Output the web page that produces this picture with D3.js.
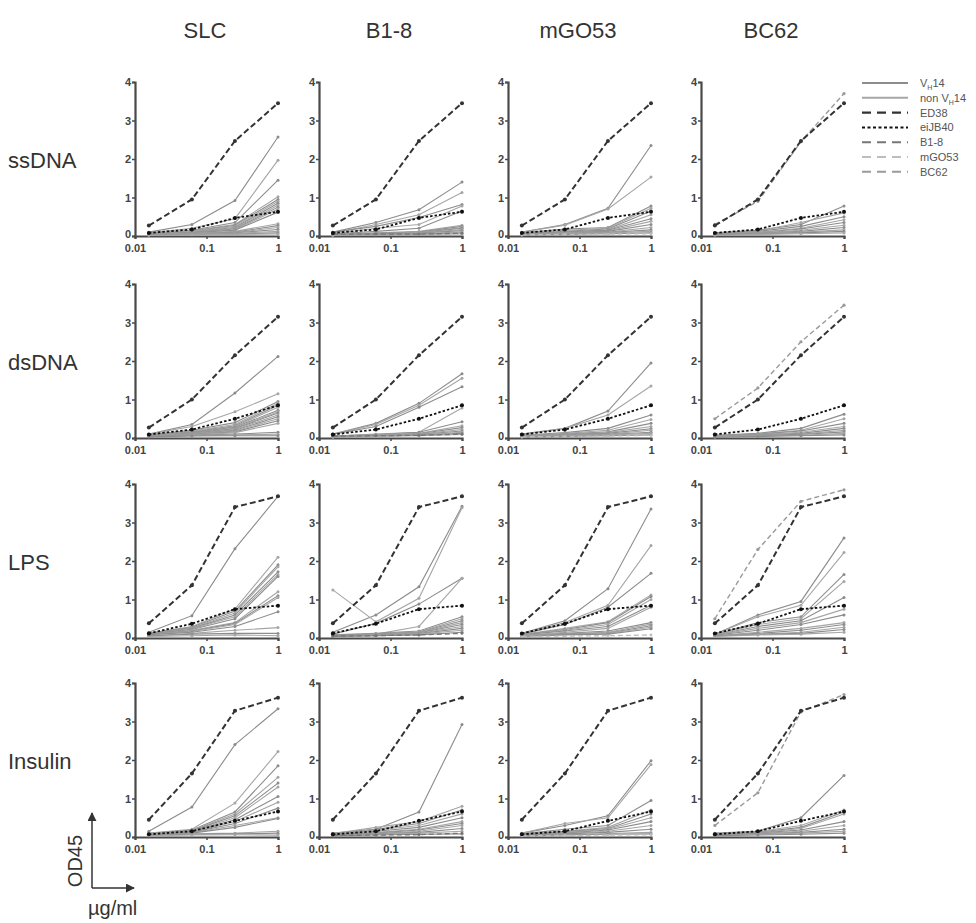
<!DOCTYPE html>
<html>
<head>
<meta charset="utf-8">
<script src="https://cdn.jsdelivr.net/npm/d3@7"></script>
<style>
  body { margin: 0; background: #fff; }
  svg { display: block; font-family: "Liberation Sans", Arial, sans-serif; }
</style>
</head>
<body>
<div id="chart"></div>
<script>
//Datos
const doses = [0.015625, 0.0625, 0.25, 1];
const columns = ['SLC', 'B1-8', 'mGO53', 'BC62'];
const rows = ['ssDNA', 'dsDNA', 'LPS', 'Insulin'];
const xTicks = [0.01, 0.1, 1];
const yTicks = [0, 1, 2, 3, 4];

//Controles por fila
const ed38 = [
    [0.27, 0.95, 2.47, 3.45],
    [0.27, 1.00, 2.15, 3.15],
    [0.38, 1.37, 3.40, 3.68],
    [0.45, 1.65, 3.28, 3.62]
];
const eiJB40 = [
    [0.08, 0.17, 0.47, 0.63],
    [0.09, 0.22, 0.50, 0.85],
    [0.12, 0.37, 0.75, 0.84],
    [0.07, 0.15, 0.42, 0.66]
];
//Control de cada columna (B1-8, mGO53, BC62)
const ctrlB18 = [
    [0.05, 0.05, 0.05, 0.07],
    [0.05, 0.06, 0.07, 0.10],
    [0.05, 0.06, 0.08, 0.12],
    [0.04, 0.05, 0.06, 0.10]
];
const ctrlMGO53 = [
    [0.03, 0.04, 0.05, 0.06],
    [0.03, 0.04, 0.05, 0.07],
    [0.04, 0.05, 0.06, 0.08],
    [0.03, 0.04, 0.05, 0.06]
];
const ctrlBC62 = [
    [0.30, 0.90, 2.45, 3.70],
    [0.50, 1.30, 2.50, 3.45],
    [0.50, 2.30, 3.55, 3.85],
    [0.30, 1.15, 3.25, 3.70]
];

//Anticuerpos (líneas grises), una lista por panel
const ssDNA_SLC = [
    [0.10,0.30,0.92,2.57],[0.08,0.20,0.45,1.97],[0.07,0.15,0.35,1.45],[0.06,0.14,0.30,1.02],
    [0.06,0.12,0.28,0.95],[0.05,0.12,0.25,0.90],[0.05,0.10,0.22,0.85],[0.05,0.10,0.20,0.80],
    [0.05,0.09,0.18,0.75],[0.04,0.08,0.16,0.70],[0.04,0.08,0.15,0.62],[0.04,0.07,0.12,0.32],
    [0.04,0.06,0.10,0.27],[0.03,0.06,0.09,0.22],[0.03,0.05,0.08,0.17],[0.03,0.05,0.07,0.12],
    [0.03,0.04,0.05,0.08],[0.02,0.03,0.04,0.05]
];
const ssDNA_B18 = [
    [0.10,0.35,0.68,1.40],[0.08,0.30,0.55,1.13],[0.10,0.25,0.48,0.82],[0.06,0.20,0.30,0.78],
    [0.05,0.12,0.20,0.65],[0.04,0.08,0.12,0.28],[0.04,0.07,0.10,0.25],[0.03,0.06,0.09,0.22],
    [0.03,0.06,0.08,0.20],[0.03,0.05,0.08,0.17],[0.03,0.05,0.07,0.14],[0.02,0.04,0.06,0.11],
    [0.02,0.04,0.05,0.08],[0.02,0.03,0.04,0.05]
];
const ssDNA_mGO53 = [
    [0.10,0.30,0.72,2.35],[0.10,0.28,0.70,1.53],[0.08,0.18,0.22,0.78],[0.07,0.15,0.20,0.72],
    [0.06,0.12,0.18,0.65],[0.05,0.10,0.16,0.55],[0.05,0.10,0.15,0.45],[0.04,0.08,0.13,0.38],
    [0.04,0.07,0.12,0.30],[0.04,0.07,0.10,0.22],[0.03,0.06,0.09,0.16],[0.03,0.05,0.08,0.12],
    [0.02,0.04,0.06,0.08]
];
const ssDNA_BC62 = [
    [0.08,0.15,0.30,0.78],[0.07,0.13,0.35,0.60],[0.06,0.12,0.25,0.50],[0.05,0.10,0.20,0.42],
    [0.05,0.09,0.18,0.35],[0.04,0.08,0.15,0.28],[0.04,0.07,0.12,0.22],[0.03,0.06,0.10,0.16],
    [0.03,0.05,0.08,0.12],[0.02,0.04,0.06,0.08]
];
const dsDNA_SLC = [
    [0.10,0.35,1.17,2.12],[0.10,0.30,0.68,1.15],[0.08,0.20,0.40,0.95],[0.08,0.18,0.35,0.90],
    [0.07,0.16,0.32,0.85],[0.07,0.15,0.30,0.80],[0.06,0.14,0.28,0.72],[0.06,0.13,0.26,0.68],
    [0.06,0.12,0.24,0.65],[0.05,0.11,0.22,0.60],[0.05,0.10,0.20,0.55],[0.05,0.10,0.18,0.50],
    [0.04,0.09,0.16,0.45],[0.04,0.08,0.14,0.38],[0.04,0.07,0.10,0.15],[0.03,0.06,0.08,0.10],
    [0.03,0.05,0.06,0.06]
];
const dsDNA_B18 = [
    [0.10,0.38,0.90,1.67],[0.10,0.35,0.85,1.55],[0.10,0.30,0.80,1.33],[0.05,0.10,0.15,0.78],
    [0.05,0.09,0.15,0.42],[0.04,0.08,0.12,0.32],[0.04,0.07,0.11,0.27],[0.04,0.07,0.10,0.22],
    [0.03,0.06,0.09,0.18],[0.03,0.06,0.08,0.15],[0.03,0.05,0.07,0.12],[0.02,0.04,0.06,0.09]
];
const dsDNA_mGO53 = [
    [0.10,0.25,0.70,1.95],[0.10,0.25,0.60,1.35],[0.07,0.14,0.25,0.60],[0.06,0.12,0.20,0.48],
    [0.05,0.10,0.16,0.38],[0.05,0.09,0.14,0.30],[0.04,0.08,0.12,0.24],[0.04,0.07,0.10,0.20],
    [0.03,0.06,0.09,0.15],[0.03,0.05,0.08,0.12],[0.02,0.04,0.06,0.08]
];
const dsDNA_BC62 = [
    [0.07,0.12,0.25,0.62],[0.06,0.11,0.20,0.50],[0.05,0.10,0.18,0.38],[0.05,0.09,0.15,0.30],
    [0.04,0.08,0.12,0.25],[0.04,0.07,0.10,0.20],[0.03,0.06,0.09,0.16],[0.03,0.05,0.07,0.12],
    [0.02,0.04,0.06,0.08]
];
const LPS_SLC = [
    [0.15,0.58,2.32,3.68],[0.12,0.30,0.75,2.10],[0.12,0.28,0.70,1.90],[0.11,0.26,0.65,1.85],
    [0.10,0.25,0.60,1.72],[0.10,0.24,0.55,1.65],[0.10,0.22,0.50,1.60],[0.09,0.20,0.40,1.20],
    [0.09,0.18,0.38,1.10],[0.08,0.17,0.35,1.05],[0.08,0.15,0.30,0.68],[0.06,0.12,0.20,0.27],
    [0.05,0.10,0.12,0.12],[0.04,0.06,0.08,0.06]
];
const LPS_B18 = [
    [0.15,0.60,1.33,3.42],[1.25,0.42,1.03,3.38],[0.10,0.38,0.88,1.55],[0.05,0.10,0.30,1.55],
    [0.08,0.12,0.18,0.55],[0.07,0.11,0.16,0.50],[0.07,0.10,0.15,0.45],[0.06,0.09,0.14,0.40],
    [0.06,0.09,0.13,0.35],[0.05,0.08,0.12,0.30],[0.05,0.07,0.11,0.25],[0.04,0.06,0.10,0.20],
    [0.04,0.06,0.08,0.15]
];
const LPS_mGO53 = [
    [0.12,0.45,1.28,3.35],[0.10,0.40,0.85,2.40],[0.10,0.35,0.80,1.68],[0.09,0.25,0.42,1.12],
    [0.09,0.22,0.40,1.08],[0.08,0.20,0.35,1.00],[0.08,0.18,0.30,0.85],[0.07,0.15,0.25,0.80],
    [0.06,0.12,0.18,0.40],[0.06,0.11,0.15,0.36],[0.05,0.10,0.13,0.32],[0.05,0.09,0.12,0.28],
    [0.04,0.08,0.10,0.24]
];
const LPS_BC62 = [
    [0.10,0.60,0.95,2.60],[0.10,0.55,0.85,2.22],[0.09,0.40,0.55,1.65],[0.09,0.35,0.50,1.47],
    [0.08,0.30,0.45,1.05],[0.08,0.25,0.40,0.75],[0.07,0.20,0.35,0.60],[0.06,0.15,0.25,0.40],
    [0.06,0.12,0.20,0.35],[0.05,0.10,0.15,0.28],[0.05,0.09,0.12,0.22],[0.04,0.08,0.10,0.15]
];
const Insulin_SLC = [
    [0.15,0.78,2.40,3.33],[0.10,0.20,0.88,2.22],[0.09,0.18,0.65,1.85],[0.09,0.17,0.60,1.55],
    [0.08,0.16,0.55,1.40],[0.08,0.15,0.50,1.30],[0.07,0.14,0.45,1.05],[0.07,0.13,0.40,0.90],
    [0.06,0.12,0.35,0.75],[0.06,0.11,0.30,0.50],[0.05,0.10,0.25,0.48],[0.05,0.08,0.10,0.15],
    [0.04,0.07,0.08,0.10],[0.03,0.05,0.06,0.05]
];
const Insulin_B18 = [
    [0.10,0.20,0.65,2.92],[0.09,0.25,0.40,0.80],[0.08,0.20,0.35,0.70],[0.08,0.18,0.30,0.60],
    [0.07,0.15,0.25,0.50],[0.06,0.12,0.20,0.40],[0.06,0.10,0.18,0.35],[0.05,0.09,0.15,0.30],
    [0.05,0.08,0.12,0.22],[0.04,0.07,0.10,0.15],[0.03,0.05,0.07,0.08]
];
const Insulin_mGO53 = [
    [0.10,0.30,0.55,1.98],[0.10,0.35,0.50,1.88],[0.08,0.20,0.30,0.95],[0.07,0.15,0.25,0.70],
    [0.07,0.14,0.22,0.60],[0.06,0.12,0.20,0.50],[0.06,0.10,0.18,0.40],[0.05,0.09,0.15,0.30],
    [0.04,0.08,0.12,0.20],[0.04,0.06,0.09,0.12],[0.03,0.05,0.07,0.08]
];
const Insulin_BC62 = [
    [0.10,0.15,0.50,1.60],[0.08,0.14,0.30,0.70],[0.07,0.12,0.25,0.65],[0.07,0.11,0.22,0.60],
    [0.06,0.10,0.18,0.40],[0.05,0.09,0.15,0.30],[0.05,0.08,0.12,0.20],[0.04,0.07,0.10,0.15],
    [0.03,0.05,0.07,0.10]
];

const panels = [
    [ssDNA_SLC, ssDNA_B18, ssDNA_mGO53, ssDNA_BC62],
    [dsDNA_SLC, dsDNA_B18, dsDNA_mGO53, dsDNA_BC62],
    [LPS_SLC, LPS_B18, LPS_mGO53, LPS_BC62],
    [Insulin_SLC, Insulin_B18, Insulin_mGO53, Insulin_BC62]
];

//Estilos
const COLOR_VH14 = '#8c8c8c',
    COLOR_NONVH14 = '#a6a6a6',
    COLOR_ED38 = '#333333',
    COLOR_EIJB40 = '#111111',
    COLOR_B18 = '#777777',
    COLOR_MGO53 = '#bdbdbd',
    COLOR_BC62 = '#9a9a9a',
    COLOR_AXIS = '#4a4a4a',
    COLOR_TEXT = '#333333';

const legendItems = [
    { label: 'VH14', sub: true, color: COLOR_VH14, dash: null, w: 2 },
    { label: 'non VH14', sub: true, color: COLOR_NONVH14, dash: null, w: 2 },
    { label: 'ED38', color: COLOR_ED38, dash: '9,6', w: 2.4 },
    { label: 'eiJB40', color: COLOR_EIJB40, dash: '3,2.5', w: 2 },
    { label: 'B1-8', color: COLOR_B18, dash: '9,6', w: 2 },
    { label: 'mGO53', color: COLOR_MGO53, dash: '9,6', w: 2 },
    { label: 'BC62', color: COLOR_BC62, dash: '9,6', w: 2 }
];

//Layout
const width = 976, height = 923;
const colX = [135, 319, 508, 701], panelW = 143;
const rowY = [236, 438, 638, 837], panelH = 154;

let svg = d3.select('#chart').append('svg')
    .attr('width', width)
    .attr('height', height);

//Títulos de columnas y filas
columns.forEach(function(c, i) {
    svg.append('text')
        .attr('x', colX[i] + 70)
        .attr('y', 38)
        .attr('text-anchor', 'middle')
        .attr('font-size', 22)
        .attr('fill', COLOR_TEXT)
        .text(c);
});
rows.forEach(function(r, i) {
    svg.append('text')
        .attr('x', 8)
        .attr('y', rowY[i] - 68)
        .attr('font-size', 22)
        .attr('fill', COLOR_TEXT)
        .text(r);
});

let line = d3.line();

function drawSeries(g, x, y, values, color, dash, w, r) {
    let pts = values.map(function(v, i) { return [x(doses[i]), y(v)]; });
    g.append('path')
        .attr('d', line(pts))
        .attr('fill', 'none')
        .attr('stroke', color)
        .attr('stroke-width', w)
        .attr('stroke-dasharray', dash);
    g.selectAll(null)
        .data(pts)
        .enter()
        .append('circle')
        .attr('cx', function(d) { return d[0]; })
        .attr('cy', function(d) { return d[1]; })
        .attr('r', r)
        .attr('fill', color);
}

rows.forEach(function(rowName, ri) {
    columns.forEach(function(colName, ci) {
        let x = d3.scaleLog().domain([0.01, 1]).range([colX[ci], colX[ci] + panelW]);
        let y = d3.scaleLinear().domain([0, 4]).range([rowY[ri], rowY[ri] - panelH]);
        let g = svg.append('g');

        //Ejes
        let yAxis = d3.axisLeft(y).tickValues(yTicks).tickSize(3).tickFormat(d3.format('d'));
        let gy = g.append('g').attr('transform', 'translate(' + colX[ci] + ',0)').call(yAxis);
        let xAxis = d3.axisBottom(x).tickValues(xTicks).tickSize(3).tickFormat(function(d) { return String(d); });
        let gx = g.append('g').attr('transform', 'translate(0,' + rowY[ri] + ')').call(xAxis);
        [gx, gy].forEach(function(a) {
            a.select('.domain').attr('stroke', COLOR_AXIS).attr('stroke-width', 2.2);
            a.selectAll('.tick line').attr('stroke', COLOR_AXIS).attr('stroke-width', 1.5);
            a.selectAll('.tick text')
                .attr('fill', '#444')
                .attr('font-size', 11)
                .attr('font-weight', 'bold')
                .attr('font-family', '"Liberation Sans", Arial, sans-serif');
        });
        gy.selectAll('.tick text').attr('x', -4);
        //el "0" del eje Y algo más arriba para no pisar el "0.01"
        gy.selectAll('.tick text').filter(function(d) { return d === 0; }).attr('dy', '0.1em');
        gx.selectAll('.tick text').attr('y', 8);

        //Anticuerpos
        panels[ri][ci].forEach(function(vals, k) {
            drawSeries(g, x, y, vals, k % 2 ? COLOR_NONVH14 : COLOR_VH14, null, 1.1, 1.5);
        });

        //Control específico de la columna
        if (ci === 1) drawSeries(g, x, y, ctrlB18[ri], COLOR_B18, '5,3', 1.3, 1.4);
        if (ci === 2) drawSeries(g, x, y, ctrlMGO53[ri], COLOR_MGO53, '5,3', 1.3, 1.4);
        if (ci === 3) drawSeries(g, x, y, ctrlBC62[ri], COLOR_BC62, '5,3', 1.4, 1.6);

        drawSeries(g, x, y, eiJB40[ri], COLOR_EIJB40, '2.5,2', 1.8, 2);
        drawSeries(g, x, y, ed38[ri], COLOR_ED38, '6,3', 2, 2);
    });
});

//Leyenda
let legend = svg.append('g').attr('transform', 'translate(862,83)');
legendItems.forEach(function(d, i) {
    let gi = legend.append('g').attr('transform', 'translate(0,' + (i * 14.8) + ')');
    gi.append('line')
        .attr('x1', 0).attr('x2', 46)
        .attr('stroke', d.color)
        .attr('stroke-width', d.w)
        .attr('stroke-dasharray', d.dash);
    let t = gi.append('text')
        .attr('x', 58)
        .attr('y', 4)
        .attr('font-size', 11)
        .attr('fill', '#555');
    if (d.sub) {
        let parts = d.label.split('VH14');
        t.append('tspan').text(parts[0] + 'V');
        t.append('tspan').attr('font-size', 7).attr('dy', 3).text('H');
        t.append('tspan').attr('dy', -3).text('14');
    } else {
        t.text(d.label);
    }
});

//Indicador de ejes (OD45 / µg/ml)
let defs = svg.append('defs');
defs.append('marker')
    .attr('id', 'arrow')
    .attr('viewBox', '0 0 10 10')
    .attr('refX', 9).attr('refY', 5)
    .attr('markerWidth', 9).attr('markerHeight', 9)
    .attr('markerUnits', 'userSpaceOnUse')
    .attr('orient', 'auto')
    .append('path')
    .attr('d', 'M0,0 L10,5 L0,10 Z')
    .attr('fill', '#333');

svg.append('line')
    .attr('x1', 92).attr('y1', 888).attr('x2', 92).attr('y2', 813)
    .attr('stroke', '#333').attr('stroke-width', 1.5)
    .attr('marker-end', 'url(#arrow)');
svg.append('line')
    .attr('x1', 92).attr('y1', 888).attr('x2', 134).attr('y2', 888)
    .attr('stroke', '#333').attr('stroke-width', 1.5)
    .attr('marker-end', 'url(#arrow)');
svg.append('text')
    .attr('transform', 'translate(82,861) rotate(-90)')
    .attr('text-anchor', 'middle')
    .attr('font-size', 20)
    .attr('fill', COLOR_TEXT)
    .text('OD45');
svg.append('text')
    .attr('x', 88)
    .attr('y', 915)
    .attr('font-size', 20)
    .attr('fill', COLOR_TEXT)
    .text('µg/ml');
</script>
</body>
</html>
